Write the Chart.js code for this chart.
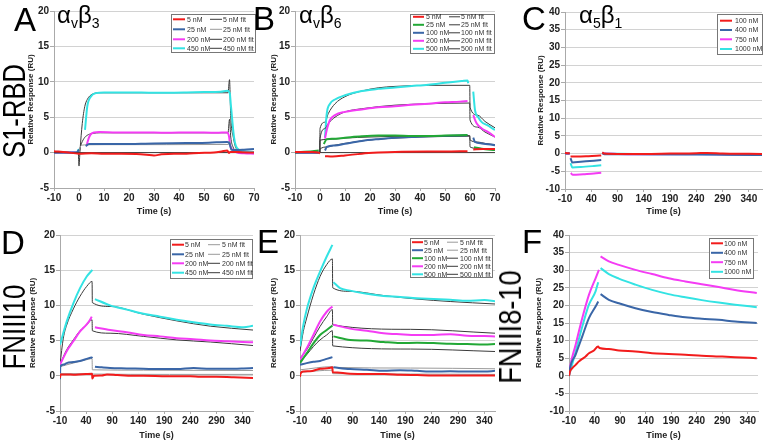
<!DOCTYPE html>
<html><head><meta charset="utf-8">
<script src="https://cdn.jsdelivr.net/npm/chart.js@4"></script>
<style>
html,body{margin:0;padding:0;background:#fff;width:768px;height:444px;overflow:hidden;position:relative;font-family:"Liberation Sans",Arial,sans-serif}
.big{position:absolute;line-height:1;color:#000;white-space:nowrap;font-family:"Liberation Sans",Arial,sans-serif}
.sub{font-size:14px;position:relative;top:5px}
</style></head><body>
<script>
// ---------------- DATA : [time (s), response (RU)] ----------------
// Panel A  (S1-RBD / αvβ3)
const A_5nM   = [[-10,0.2],[-5,0.05],[0,-0.15],[5,-0.1],[10,-0.15],[17,-0.15],[23,-0.2],[27,-0.3],[30,-0.4],[33,-0.25],[38,-0.15],[43,-0.15],[48,-0.05],[54,0.0],[57,0.15],[59.3,0.3],[60,-0.05],[60.5,0.1],[62,0.1],[65,0.05],[70,0.0]];
const A_5fit  = [[-10,0],[0,0],[30,0],[60,0],[70,0]];
const A_25nM  = [[-10,0],[-1,0],[0,0.4],[0.5,null],[2.7,0.9],[4,1.2],[10,1.2],[17,1.2],[30,1.3],[43,1.35],[52,1.4],[59.3,1.5],[60.2,1.3],[61,0.4],[63,0.35],[66,0.4],[70,0.5]];
const A_25fit = [[-10,0],[0,0],[0.5,0.8],[1.3,1.05],[3,1.1],[10,1.12],[59.8,1.15],[60.2,1.6],[60.8,0.7],[62,0.3],[64,0.1],[67,0],[70,0]];
const A_200nM = [[-10,0],[-1,0],[-0.5,null],[3.1,1.0],[3.5,1.6],[4.5,2.5],[6,2.85],[8,2.9],[15,2.85],[25,2.85],[35,2.8],[45,2.85],[55,2.8],[59.3,2.85],[60,2.3],[60.5,1.0],[61.5,0.4],[63,0.05],[66,-0.1],[70,-0.15]];
const A_200fit= [[-10,0],[0,0],[0.7,1.0],[2,2.0],[3.3,2.45],[5.3,2.7],[8.7,2.8],[30,2.8],[59.6,2.8],[60.2,4.7],[60.7,2.2],[61.6,0.8],[63.3,0.2],[66,0],[70,0]];
const A_450nM = [[-10,0],[-1,0],[0,0.5],[0.5,null],[2.4,3.2],[3.3,6.5],[4.7,7.9],[6.7,8.4],[10,8.5],[20,8.5],[30,8.45],[43,8.5],[50,8.55],[56.7,8.6],[59.3,8.75],[60.3,8.4],[60.7,6.9],[61.3,4.6],[62,2.2],[62.7,1.0],[64,0.4],[66,0.2],[70,0.1]];
const A_450fit= [[-10,0],[-0.3,0],[0,-1.9],[0.4,0.3],[1.3,4.1],[2.3,6.5],[3.3,7.5],[5.3,8.25],[8.7,8.45],[30,8.45],[59.6,8.45],[60.2,10.3],[60.7,5.0],[61.8,2.0],[62.7,0.7],[64.5,0.2],[70,0]];
const A_LABELS = ['5 nM','5 nM fit','25 nM','25 nM fit','200 nM','200 nM fit','450 nM','450 nM fit'];

// Panel B  (S1-RBD / αvβ6)
const B_5nM   = [[-10,0.1],[-3,0.1],[-0.5,0.0],[0,-0.1],[0.5,null],[2,-0.5],[5,-0.55],[10,-0.4],[16.7,-0.15],[23.3,0],[30,0.1],[43,0.15],[50,0.15],[59,0.2],[59.5,null],[61.3,0.45],[65,0.5],[70,0.5]];
const B_5fit  = [[-10,0],[0,0],[30,0],[60,0],[70,0]];
const B_25nM  = [[-10,0.05],[-3,0.2],[-0.5,0.3],[0,null],[1.5,1.2],[2.7,1.9],[5,1.95],[10,2.1],[16.7,2.3],[23.3,2.4],[30,2.4],[36.7,2.35],[43.3,2.35],[50,2.4],[59,2.5],[59.5,null],[61.6,0.75],[64.7,0.55],[70,0.35]];
const B_25fit = [[-10,0],[-0.1,0],[0,1.75],[5,1.9],[10,2.05],[20,2.2],[30,2.3],[45,2.35],[59.9,2.4],[60,0.8],[63,0.6],[66,0.5],[70,0.4]];
const B_100nM = [[-10,0],[-0.5,0],[0,null],[2,0.3],[2.7,0.8],[6,1.0],[10,1.25],[16.7,1.65],[23.3,1.9],[30,2.1],[36.7,2.2],[43.3,2.3],[50,2.35],[59,2.45],[59.5,null],[61.3,2.1],[62,1.5],[64.7,1.3],[70,1.05]];
const B_100fit= [[-10,0],[-0.1,0],[0,0.5],[3,0.8],[6,1.05],[10,1.3],[16.7,1.65],[23.3,1.9],[30,2.05],[40,2.2],[50,2.28],[59.9,2.32],[60,1.8],[63,1.5],[66,1.3],[70,1.1]];
const B_200nM = [[-10,0],[-0.5,0],[0,null],[2,2.0],[2.7,3.2],[4,4.6],[6,5.3],[10,5.75],[16.7,6.1],[23.3,6.4],[30,6.55],[36.7,6.75],[43.3,6.9],[50,7.1],[56,7.2],[59,7.3],[59.5,null],[61.3,5.3],[61.6,5.0],[62.7,4.1],[64.7,3.4],[67.3,2.9],[70,2.2]];
const B_200fit= [[-10,0],[-0.1,0],[0,2.0],[2,3.4],[3.3,4.1],[6,5.0],[10,5.75],[16.7,6.2],[30,6.7],[43.3,6.9],[59.9,7.0],[60,4.6],[63,3.6],[66,2.9],[70,2.2]];
const B_500nM = [[-10,0],[-0.5,0],[0,null],[2,2.2],[2.7,5.5],[4,6.9],[6,7.5],[10,8.1],[16.7,8.7],[23.3,9.0],[30,9.2],[36.7,9.4],[43.3,9.6],[50,9.85],[56.7,10.1],[59,10.2],[59.3,9.8],[59.6,null],[61.3,8.6],[62,6.0],[63.3,5.0],[64.7,4.3],[66.7,3.9],[70,3.2]];
const B_500fit= [[-10,0],[-0.1,0],[0,3.4],[2,4.3],[3.3,5.5],[6,6.9],[10,7.9],[16.7,8.7],[23.3,9.15],[30,9.35],[43.3,9.5],[59.9,9.5],[60,6.4],[63,5.3],[66,4.4],[70,3.5]];
const B_LABELS = ['5 nM','5 nM fit','25 nM','25 nM fit','100 nM','100 nM fit','200 nM','200 nM fit','500 nM','500 nM fit'];

// Panel C  (S1-RBD / α5β1)
const C_100nM  = [[-10,0.2],[-5,0.1],[-1,0.1],[-0.5,null],[0.5,-0.8],[10,-0.8],[30,-0.75],[50,-0.6],[59,-0.55],[59.5,null],[61,0.35],[65,0],[90,-0.1],[140,-0.1],[190,0],[240,0.1],[260,0.2],[290,0.05],[340,-0.05],[365,-0.1]];
const C_400nM  = [[-10,0],[-1,0],[-0.5,null],[0.5,-1.3],[4,-2.5],[20,-2.3],[45,-2.0],[59,-1.8],[59.5,null],[61,0.2],[65,-0.2],[140,-0.2],[240,-0.2],[300,-0.3],[365,-0.4]];
const C_750nM  = [[-10,0],[-1,0],[-0.5,null],[1,-5.5],[5,-6.0],[25,-5.8],[45,-5.6],[59,-5.4],[59.5,null],[61,0],[150,-0.2],[250,-0.2],[365,-0.3]];
const C_1000nM = [[-10,0],[-1,0],[-0.5,null],[0.5,-2.7],[4,-3.9],[20,-3.8],[45,-3.5],[59,-3.3],[59.5,null],[61,0],[150,-0.2],[250,-0.25],[365,-0.3]];
const C_LABELS = ['100 nM','400 nM','750 nM','1000 nM'];

// Panel D  (FNIII10 / αvβ3)
const D_5nM   = [[-10,-0.3],[-9,0.2],[0,0.2],[20,0.15],[40,0.25],[51.5,0.3],[52,-0.4],[55,0],[70,0.05],[80,0.2],[100,0.1],[131,0],[150,0],[195,-0.05],[240,-0.05],[259,-0.15],[290,-0.15],[323,-0.2],[360,-0.3]];
const D_5fit  = [[-10,0.3],[51.5,0.3],[52,0.25],[200,0.2],[360,0.2]];
const D_25nM  = [[-10,-0.5],[-9.5,1.3],[-3,1.6],[2.8,1.8],[15.6,1.95],[28.4,2.1],[41.2,2.4],[50.8,2.6],[52,2.5],[52.5,null],[57,1.3],[70,1.2],[86,1.1],[118,1.05],[150,1.0],[182,0.95],[214,0.95],[246,1.1],[278,1.0],[310,1.0],[342,1.05],[360,1.1]];
const D_25fit = [[-10,1.3],[0,1.5],[15,1.8],[30,2.1],[45,2.35],[51.5,2.45],[52,0.85],[150,0.8],[360,0.75]];
const D_200nM = [[-10,1.6],[2.8,3.5],[15.6,4.9],[28.4,6.3],[41.2,7.3],[48,8.0],[50.8,8.4],[51.5,null],[57,6.9],[86,6.5],[118,6.2],[150,5.8],[182,5.6],[214,5.35],[246,5.2],[278,5.0],[310,4.9],[340,4.8],[360,4.75]];
const D_200fit= [[-10,1.6],[2.8,3.7],[15.6,5.1],[28.4,6.4],[41.2,7.25],[51.5,7.95],[52,6.4],[86,6.05],[150,5.6],[214,5.1],[278,4.8],[360,4.3]];
const D_450nM = [[-10,4.4],[2.8,7.7],[15.6,10.3],[28.4,12.45],[41.2,14.1],[52,15.05],[52.5,null],[57,10.9],[86,10.0],[118,9.4],[150,8.8],[182,8.4],[214,7.95],[246,7.6],[278,7.3],[310,7.1],[342,6.9],[360,7.1]];
const D_450fit= [[-10,1.6],[-3.6,5.35],[2.8,7.2],[15.6,9.5],[28.4,11.3],[41.2,12.7],[51.5,13.4],[52,10.4],[86,9.85],[150,8.75],[214,7.8],[278,7.05],[360,6.5]];
const D_LABELS = ['5 nM','5 nM fit','25 nM','25 nM fit','200 nM','200 nM fit','450 nM','450 nM fit'];

// Panel E  (FNIII10 / αvβ6)
const E_5nM   = [[-10,-0.15],[-9,0.3],[-3.7,0.6],[9,0.65],[28,1.0],[45,1.1],[51.5,1.2],[52,0.5],[53.4,0.5],[85,0.3],[117,0.25],[150,0.25],[180,0.15],[212,0.1],[243,0.05],[275,0.05],[307,0.05],[340,0.05],[360,0.05]];
const E_5fit  = [[-10,0.5],[51.5,0.8],[52,0.3],[200,0.25],[360,0.2]];
const E_25nM  = [[-10,1.55],[2.7,1.8],[15.4,2.0],[28,2.1],[40.7,2.4],[51.5,2.65],[52,null],[53.4,1.2],[85,0.95],[117,0.85],[148.5,0.7],[180,0.8],[212,0.7],[243.6,0.6],[275,0.65],[307,0.6],[340,0.6],[360,0.7]];
const E_25fit = [[-10,0.85],[51.5,1.3],[52,1.2],[200,1.1],[360,1.0]];
const E_100nM = [[-10,1.8],[2.7,3.2],[15.4,4.6],[28,5.8],[40.7,6.5],[51.5,7.15],[52,null],[53.4,5.6],[85,5.1],[117,5.0],[148.5,4.8],[180,4.65],[212,4.7],[243.6,4.65],[275,4.55],[307,4.5],[340,4.45],[360,4.5]];
const E_100fit= [[-10,2.0],[2.7,3.0],[15.4,4.15],[28,5.1],[40.7,5.8],[51.5,6.4],[52,4.25],[200,3.8],[360,3.45]];
const E_200nM = [[-10,2.3],[2.7,3.9],[15.4,5.8],[28,7.7],[40.7,9.1],[51.5,9.85],[52,null],[53.4,7.25],[85,6.7],[117,6.4],[148.5,6.05],[180,5.9],[212,5.8],[243.6,5.8],[275,5.9],[307,5.7],[340,5.65],[360,5.6]];
const E_200fit= [[-10,2.5],[2.7,3.7],[15.4,5.35],[28,7.0],[40.7,8.4],[51.5,9.4],[52,7.25],[200,6.6],[360,6.05]];
const E_500nM = [[-10,4.2],[-3.7,7.2],[2.7,9.4],[15.4,12.45],[28,14.8],[40.7,16.95],[51.5,18.6],[52,null],[53.4,13.3],[66,12.45],[85,12.1],[117,11.65],[148.5,11.35],[180,11.2],[212,11.0],[243.6,10.9],[275,10.8],[307,10.65],[340,10.75],[360,10.6]];
const E_500fit= [[-10,3.5],[-3.7,6.3],[2.7,8.2],[15.4,11.5],[28,14.1],[40.7,15.8],[51.5,16.6],[52,12.5],[85,12.0],[148.5,11.4],[212,10.9],[275,10.55],[360,10.2]];
const E_LABELS = ['5 nM','5 nM fit','25 nM','25 nM fit','100 nM','100 nM fit','200 nM','200 nM fit','500 nM','500 nM fit'];

// Panel F  (FNIII8-10 / α5β1)
const F_100nM  = [[-10,0],[-9.5,0.2],[-8.5,1.0],[-3.5,2.2],[3,3.1],[9.5,4.1],[16,4.8],[22.5,5.5],[29,6.4],[38.8,7.2],[47,8.3],[49.5,7.9],[68,7.6],[87.6,7.2],[120,6.9],[152.7,6.4],[185,6.2],[217.7,6.0],[250,5.7],[283,5.5],[315,5.3],[357.6,5.0]];
const F_400nM  = [[-10,0],[-9.4,1.0],[3,6.0],[16,11.2],[29,16.4],[42,19.7],[47.2,21.1],[47.5,null],[51.8,23.2],[68,21.6],[87.6,20.6],[120,19.2],[152.7,18.1],[185,17.3],[217.7,16.6],[250,16.2],[283,15.9],[315,15.4],[357.6,15.0]];
const F_750nM  = [[-10,0],[-9.4,1.0],[3,8.8],[16,16.4],[29,23],[42,27.7],[48.6,30.1],[49,null],[51.8,33.9],[68,32.5],[87.6,31.5],[120,30.1],[152.7,28.9],[185,27.7],[217.7,26.8],[250,26.0],[283,25.2],[315,24.4],[357.6,23.5]];
const F_1000nM = [[-10,0],[-9.4,0.3],[3,6.9],[16,14.0],[29,20.2],[42,24],[47.2,26.6],[47.5,null],[51.8,30.6],[68,28.9],[87.6,27.6],[120,25.9],[152.7,24.4],[185,23.2],[217.7,22.3],[250,21.5],[283,20.8],[315,20.2],[357.6,19.5]];
const F_LABELS = ['100 nM','400 nM','750 nM','1000 nM'];

// Tick labels
const X_TICKS_70  = [-10,0,10,20,30,40,50,60,70];
const X_TICKS_360 = [-10,40,90,140,190,240,290,340];
const Y_TICKS_20  = [-5,0,5,10,15,20];
const Y_TICKS_40  = [-10,-5,0,5,10,15,20,25,30,35,40];

// ---------------- STYLE ----------------
const RED='#f21c1c', BLUE='#3a66a7', MAG='#f43cf4', CYAN='#33e3e3', GREEN='#22a836', FIT='#3a3a3a', FIT2='#9a9a9a';
Chart.defaults.font.family = '"Liberation Sans", Arial, sans-serif';

function ser(label, pts, color, width){
  return {label, data: pts.map(p=>({x:p[0], y:p[1]})), borderColor:color, backgroundColor:color,
    borderWidth:width, pointRadius:0, fill:false, spanGaps:false, cubicInterpolationMode:'monotone'};
}

function legendPlugin(cfg, ox, oy){
  return {id:'legendBox', afterDatasetsDraw(chart){
    const ctx = chart.ctx; ctx.save();
    const [x0,y0,x1,y1] = cfg.box;
    ctx.fillStyle='#fff'; ctx.fillRect(x0-ox, y0-oy, x1-x0, y1-y0);
    ctx.strokeStyle='#777'; ctx.lineWidth=1; ctx.strokeRect(x0-ox+0.5, y0-oy+0.5, x1-x0-1, y1-y0-1);
    ctx.font = '7px "Liberation Sans", Arial, sans-serif'; ctx.textBaseline='middle'; ctx.textAlign='left';
    chart.data.datasets.forEach((ds,i)=>{
      const r = Math.floor(i/cfg.cols), c = i%cfg.cols;
      const y = cfg.rows[r]-oy, lx = cfg.lineX[c]-ox;
      ctx.strokeStyle = ds.borderColor; ctx.lineWidth = ds.borderWidth;
      ctx.beginPath(); ctx.moveTo(lx, y); ctx.lineTo(lx+cfg.lineW, y); ctx.stroke();
      ctx.fillStyle='#333'; ctx.fillText(ds.label, cfg.textX[c]-ox, y+0.5);
    });
    ctx.restore();
  }};
}

function makePanel(p){
  const c = document.createElement('canvas');
  c.width = p.w; c.height = p.h;
  c.style.cssText = `position:absolute;left:${p.left}px;top:${p.top}px;width:${p.w}px;height:${p.h}px`;
  document.body.appendChild(c);
  const yW = p.area.l - p.left, xH = p.top + p.h - p.area.b;
  new Chart(c, {
    type:'line',
    data:{datasets:p.datasets},
    plugins:[legendPlugin(p.legend, p.left, p.top)],
    options:{
      responsive:false, animation:false, devicePixelRatio:1,
      layout:{padding:{left:0, top:p.area.t - p.top, right:p.left + p.w - p.area.r, bottom:0}},
      plugins:{legend:{display:false}, tooltip:{enabled:false}},
      scales:{
        x:{type:'linear', min:p.xMin, max:p.xMax,
          afterBuildTicks:s=>{ s.ticks = p.xTicks.map(v=>({value:v})); },
          afterFit:s=>{ s.height = xH; },
          grid:{drawOnChartArea:false, tickLength:3, tickColor:'#aaa'},
          border:{color:'#aaa'},
          ticks:{font:{size:10, weight:'bold'}, color:'#222', padding:1, maxRotation:0, autoSkip:false, callback:v=>String(v)},
          title:{display:true, text:'Time (s)', font:{size:9, weight:'bold'}, color:'#222', padding:{top:0, bottom:p.tpb}}
        },
        y:{type:'linear', min:p.yMin, max:p.yMax,
          afterBuildTicks:s=>{ s.ticks = p.yTicks.map(v=>({value:v})); },
          afterFit:s=>{ s.width = yW; },
          grid:{color:'#d2d2d2', tickLength:4, tickColor:'#aaa'},
          border:{color:'#aaa'},
          ticks:{font:{size:10, weight:'bold'}, color:'#222', padding:1, callback:v=>String(v)},
          title:{display:true, text:'Relative Response (RU)', font:{size:8, weight:'bold'}, color:'#222', padding:{top:4, bottom:0}}
        }
      }
    }
  });
}

const panels = [
  {left:22, top:0, w:240, h:222, area:{l:54,t:11,r:254,b:188}, xMin:-10, xMax:70, xTicks:X_TICKS_70, yMin:-5, yMax:20, yTicks:Y_TICKS_20, tpb:5,
   legend:{box:[171,14,256,53], cols:2, rows:[19.3,29.3,39.3,48.3], lineX:[173,210], lineW:12, textX:[187,223]},
   datasets:[ser(A_LABELS[0],A_5nM,RED,2), ser(A_LABELS[1],A_5fit,FIT,1), ser(A_LABELS[2],A_25nM,BLUE,2), ser(A_LABELS[3],A_25fit,FIT2,1),
             ser(A_LABELS[4],A_200nM,MAG,2), ser(A_LABELS[5],A_200fit,FIT,1), ser(A_LABELS[6],A_450nM,CYAN,2), ser(A_LABELS[7],A_450fit,FIT,1)]},
  {left:265, top:0, w:238, h:222, area:{l:295,t:11,r:495,b:188}, xMin:-10, xMax:70, xTicks:X_TICKS_70, yMin:-5, yMax:20, yTicks:Y_TICKS_20, tpb:5,
   legend:{box:[410,14,495,54], cols:2, rows:[16.8,24.8,32.8,40.8,48.8], lineX:[413,449], lineW:11, textX:[426,461]},
   datasets:[ser(B_LABELS[0],B_5nM,RED,2), ser(B_LABELS[1],B_5fit,FIT,1), ser(B_LABELS[2],B_25nM,GREEN,2), ser(B_LABELS[3],B_25fit,FIT,1),
             ser(B_LABELS[4],B_100nM,BLUE,2), ser(B_LABELS[5],B_100fit,FIT,1), ser(B_LABELS[6],B_200nM,MAG,2), ser(B_LABELS[7],B_200fit,FIT,1),
             ser(B_LABELS[8],B_500nM,CYAN,2), ser(B_LABELS[9],B_500fit,FIT,1)]},
  {left:532, top:0, w:236, h:222, area:{l:565,t:12,r:762,b:189}, xMin:-10, xMax:365, xTicks:X_TICKS_360, yMin:-10, yMax:40, yTicks:Y_TICKS_40, tpb:5,
   legend:{box:[717,14,763,55], cols:1, rows:[20.7,30,39.3,49], lineX:[720], lineW:12, textX:[735]},
   datasets:[ser(C_LABELS[0],C_100nM,RED,2), ser(C_LABELS[1],C_400nM,BLUE,2), ser(C_LABELS[2],C_750nM,MAG,2), ser(C_LABELS[3],C_1000nM,CYAN,2)]},
  {left:24, top:222, w:237, h:222, area:{l:60,t:235,r:253,b:411}, xMin:-10, xMax:360, xTicks:X_TICKS_360, yMin:-5, yMax:20, yTicks:Y_TICKS_20, tpb:3,
   legend:{box:[170,239,253,279], cols:2, rows:[244.7,254.3,263.3,272.7], lineX:[172,208], lineW:12, textX:[185,222]},
   datasets:[ser(D_LABELS[0],D_5nM,RED,2), ser(D_LABELS[1],D_5fit,FIT2,1), ser(D_LABELS[2],D_25nM,BLUE,2), ser(D_LABELS[3],D_25fit,FIT2,1),
             ser(D_LABELS[4],D_200nM,MAG,2), ser(D_LABELS[5],D_200fit,FIT,1), ser(D_LABELS[6],D_450nM,CYAN,2), ser(D_LABELS[7],D_450fit,FIT,1)]},
  {left:265, top:222, w:238, h:222, area:{l:300,t:235,r:495,b:411}, xMin:-10, xMax:360, xTicks:X_TICKS_360, yMin:-5, yMax:20, yTicks:Y_TICKS_20, tpb:3,
   legend:{box:[410,238,493,278], cols:2, rows:[242.2,250.2,258.2,266.3,274.3], lineX:[412,447], lineW:11, textX:[424,460]},
   datasets:[ser(E_LABELS[0],E_5nM,RED,2), ser(E_LABELS[1],E_5fit,FIT2,1), ser(E_LABELS[2],E_25nM,BLUE,2), ser(E_LABELS[3],E_25fit,FIT2,1),
             ser(E_LABELS[4],E_100nM,GREEN,2), ser(E_LABELS[5],E_100fit,FIT,1), ser(E_LABELS[6],E_200nM,MAG,2), ser(E_LABELS[7],E_200fit,FIT,1),
             ser(E_LABELS[8],E_500nM,CYAN,2), ser(E_LABELS[9],E_500fit,FIT,1)]},
  {left:530, top:222, w:238, h:222, area:{l:569,t:235,r:758,b:411}, xMin:-10, xMax:360, xTicks:X_TICKS_360, yMin:-10, yMax:40, yTicks:Y_TICKS_40, tpb:3,
   legend:{box:[709,238,754,279], cols:1, rows:[243.3,252.8,262.2,271.8], lineX:[711], lineW:12, textX:[724]},
   datasets:[ser(F_LABELS[0],F_100nM,RED,2), ser(F_LABELS[1],F_400nM,BLUE,2), ser(F_LABELS[2],F_750nM,MAG,2), ser(F_LABELS[3],F_1000nM,CYAN,2)]}
];
panels.forEach(makePanel);

// ---------------- Big panel labels (HTML text) ----------------
function bigText(html, x, baseline, size){
  const d = document.createElement('div'); d.className='big';
  d.style.fontSize = size+'px'; d.style.left = x+'px'; d.style.top = (baseline - 0.8465*size)+'px';
  d.innerHTML = html; document.body.appendChild(d);
}
function vertText(text, cx, cy, size, sx){
  const d = document.createElement('div'); d.className='big';
  d.style.fontSize = size+'px'; d.style.left = cx+'px'; d.style.top = cy+'px';
  d.style.transform = `translate(-50%,-50%) rotate(-90deg) scale(${sx},1)`;
  d.textContent = text; document.body.appendChild(d);
}
bigText('A', 14, 31, 33);
bigText('B', 253, 30, 33);
bigText('C', 522, 30, 33);
bigText('D', 1, 254, 33);
bigText('E', 257, 253, 33);
bigText('F', 522, 253, 33);
bigText('α<span class="sub">v</span>β<span class="sub">3</span>', 57, 23, 24);
bigText('α<span class="sub">v</span>β<span class="sub">6</span>', 299, 23, 24);
bigText('α<span class="sub">5</span>β<span class="sub">1</span>', 579, 23, 24);
vertText('S1-RBD', 14, 111, 32, 0.8);
vertText('FNIII10', 14, 327, 32, 0.81);
vertText('FNIII8-10', 510, 327, 32, 0.85);
</script>
</body></html>
